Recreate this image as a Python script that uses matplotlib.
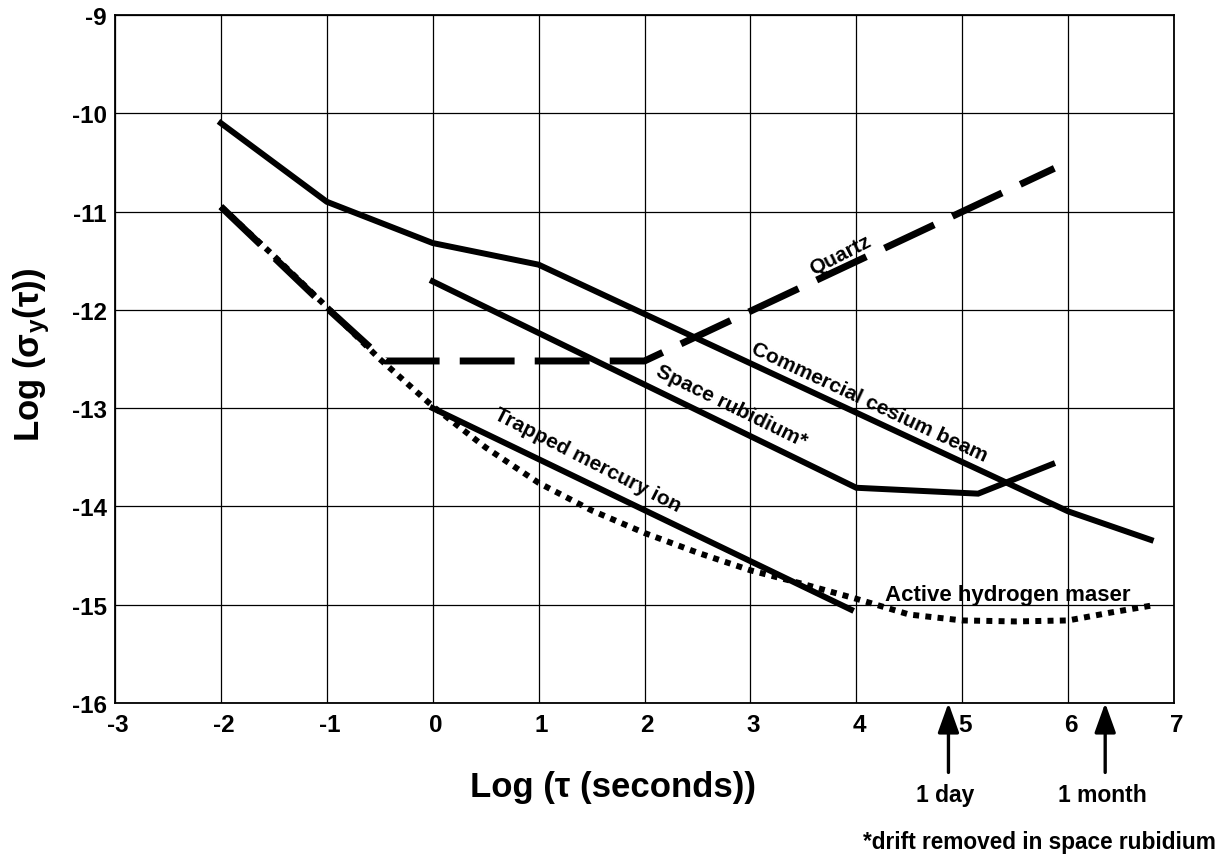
import matplotlib

matplotlib.use("Agg")
import matplotlib.pyplot as plt
import matplotlib.transforms as mtransforms

# Stability of frequency standards: Log sigma_y(tau) against Log tau.
cesium_x = [-2, -1, 0, 1, 6, 6.78]
cesium_y = [-10.1, -10.9, -11.32, -11.54, -14.05, -14.34]

rubidium_x = [0, 4, 5.15, 5.85]
rubidium_y = [-11.71, -13.81, -13.87, -13.57]

mercury_x = [0, 3.95]
mercury_y = [-13.0, -15.05]

quartz_x = [-2, -1, -0.45, 2.0, 5.87]
quartz_y = [-10.95, -11.98, -12.52, -12.52, -10.56]

maser_x = [-2, -1.5, -1, -0.5, 0, 0.5, 1, 1.5, 2, 2.5, 3, 3.5, 4, 4.5, 5, 5.5, 6, 6.4, 6.78]
maser_y = [-10.95, -11.45, -11.97, -12.5, -12.98, -13.4, -13.76, -14.04, -14.27, -14.47,
           -14.65, -14.79, -14.94, -15.1, -15.16, -15.17, -15.16, -15.08, -15.01]

x_ticks = [-3, -2, -1, 0, 1, 2, 3, 4, 5, 6, 7]
y_ticks = [-16, -15, -14, -13, -12, -11, -10, -9]

marker_names = ["1 day", "1 month"]
marker_x = [4.87, 6.35]

plt.rcParams["font.family"] = ["Liberation Sans", "DejaVu Sans"]
plt.rcParams["font.weight"] = "bold"
plt.rcParams["axes.labelweight"] = "bold"
plt.rcParams["axes.unicode_minus"] = False
plt.rcParams["mathtext.default"] = "regular"

fig = plt.figure(figsize=(12.18, 8.62), dpi=100)
ax = fig.add_axes([0.0944, 0.1833, 0.8695, 0.7981])

ax.set_xlim(-3, 7)
ax.set_ylim(-16, -9)
ax.set_xticks(x_ticks)
ax.set_yticks(y_ticks)
ax.set_xticklabels([str(v) for v in x_ticks])
ax.set_yticklabels([str(v) for v in y_ticks])
ax.tick_params(length=0, labelsize=17.5)
ax.tick_params(axis="x", pad=7)
ax.tick_params(axis="y", pad=6)
shift = mtransforms.ScaledTranslation(2 / 72, 0, fig.dpi_scale_trans)
for lab in ax.get_xticklabels():
    lab.set_transform(lab.get_transform() + shift)
ax.grid(True, color="black", linewidth=0.9)
ax.set_axisbelow(True)
for sp in ax.spines.values():
    sp.set_linewidth(1.3)

lw = 4.3
ax.plot(cesium_x, cesium_y, color="black", lw=lw, solid_joinstyle="miter")
ax.plot(rubidium_x, rubidium_y, color="black", lw=lw, solid_joinstyle="miter")
ax.plot(mercury_x, mercury_y, color="black", lw=lw)
ax.plot(quartz_x, quartz_y, color="black", lw=5, linestyle=(0, (7.9, 2.9)),
        dash_capstyle="butt")
ax.plot(maser_x, maser_y, color="black", lw=lw, linestyle=(0, (1, 1.05)),
        dash_capstyle="butt")

# curve labels
ax.text(3.85, -11.44, "Quartz", fontsize=15, rotation=27, ha="center", va="center")
ax.text(4.12, -12.93, "Commercial cesium beam", fontsize=15, rotation=-25,
        ha="center", va="center")
ax.text(2.82, -12.97, "Space rubidium*", fontsize=15, rotation=-26,
        ha="center", va="center")
ax.text(1.46, -13.52, "Trapped mercury ion", fontsize=15, rotation=-27,
        ha="center", va="center")
ax.text(4.27, -14.95, "Active hydrogen maser", fontsize=16, ha="left", va="baseline")

# time markers below the axis
for name, xv in zip(marker_names, marker_x):
    ax.annotate("", xy=(xv, -16), xytext=(0, -50), textcoords="offset points",
                arrowprops=dict(arrowstyle="-|>,head_length=0.5,head_width=0.18",
                                mutation_scale=36, lw=2.4, color="black",
                                shrinkA=0, shrinkB=0),
                annotation_clip=False)
    ax.annotate(name, xy=(xv, -16), xytext=(-2, -66), textcoords="offset points",
                ha="center", va="center", fontsize=16.5, annotation_clip=False)

ax.set_xlabel("Log (\u03c4 (seconds))", fontsize=25, va="center")
ax.xaxis.set_label_coords(0.470, -0.122)
ax.set_ylabel("Log ($\\sigma_y(\\tau)$)", fontsize=25, va="center")
ax.yaxis.set_label_coords(-0.079, 0.507)

fig.text(0.998, 0.009, "*drift removed in space rubidium", fontsize=16.3,
         ha="right", va="bottom")

fig.savefig("out.png", dpi=100)
